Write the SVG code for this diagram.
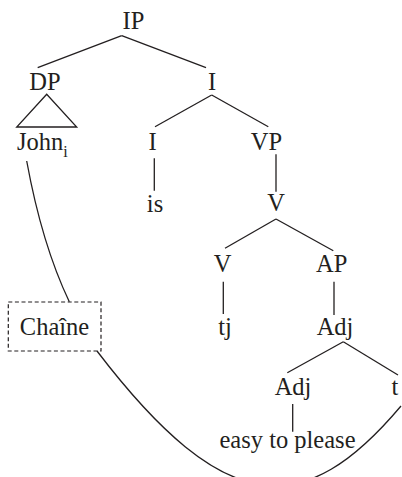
<svg xmlns="http://www.w3.org/2000/svg" width="402" height="477" viewBox="0 0 402 477">
<style>
text{font-family:"Liberation Serif","Times New Roman",serif;font-size:24.5px;fill:#231f20;text-anchor:middle}
.sub{font-size:16px}
.ln{stroke:#231f20;stroke-width:1.3;fill:none}
.dash{stroke:#231f20;fill:none;stroke-dasharray:4,2.6;stroke-width:1.2}
</style>
<rect width="402" height="477" fill="#ffffff"/>
<g id="connectors" class="ln">
<line x1="121.7" y1="35.7" x2="37.7" y2="67.7"/>
<line x1="121.7" y1="35.7" x2="206" y2="67.7"/>
<line x1="211.7" y1="95" x2="155" y2="126.7"/>
<line x1="211.7" y1="95" x2="268.3" y2="126.7"/>
<line x1="154.3" y1="158.3" x2="154.3" y2="190.7"/>
<line x1="276" y1="154.3" x2="276" y2="191.7"/>
<line x1="276" y1="219" x2="225" y2="248.3"/>
<line x1="276" y1="219" x2="333.3" y2="250.7"/>
<line x1="223.3" y1="281.7" x2="223.3" y2="314"/>
<line x1="334" y1="281.7" x2="334" y2="315"/>
<line x1="343.3" y1="341.7" x2="287.3" y2="372.7"/>
<line x1="343.3" y1="341.7" x2="398" y2="375"/>
<line x1="292.7" y1="404" x2="292.7" y2="431.7"/>
<path d="M26.7,161 Q42,244.6 69.3,301.7"/>
<path d="M97,351 C226,520 305,520 401,406"/>
</g>
<g id="n-IP"><text x="133.5" y="29">IP</text></g>
<g id="n-DP"><text x="45" y="90">DP</text>
<polygon class="ln" points="46.7,94.3 16.7,127 76.7,127"/></g>
<g id="n-I1"><text x="212" y="90">I</text></g>
<g id="n-John"><text x="17" y="150" style="text-anchor:start">John<tspan class="sub" dy="7">i</tspan></text></g>
<g id="n-I2"><text x="152.5" y="150">I</text></g>
<g id="n-VP"><text x="266.5" y="150">VP</text></g>
<g id="n-is"><text x="155" y="212">is</text></g>
<g id="n-V1"><text x="276" y="211">V</text></g>
<g id="n-V2"><text x="222.5" y="272">V</text></g>
<g id="n-AP"><text x="331.7" y="272">AP</text></g>
<g id="n-tj"><text x="225" y="335">tj</text></g>
<g id="n-Adj1"><text x="335" y="335">Adj</text></g>
<g id="n-Adj2"><text x="293" y="395">Adj</text></g>
<g id="n-t"><text x="395" y="395">t</text></g>
<g id="n-easy"><text x="287.5" y="448">easy to please</text></g>
<g id="n-Chaine"><rect class="dash" x="8.3" y="302" width="92.7" height="49"/>
<text x="54.5" y="335">Chaîne</text></g>
</svg>
